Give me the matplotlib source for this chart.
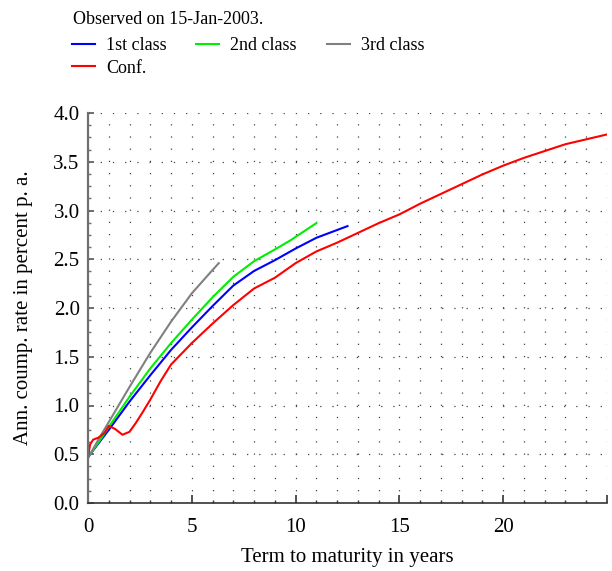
import numpy as np
import matplotlib
matplotlib.use('Agg')
import matplotlib.pyplot as plt
from matplotlib.ticker import MultipleLocator, FixedLocator

plt.rcParams['font.family'] = ['Liberation Serif', 'DejaVu Serif']
plt.rcParams['lines.scale_dashes'] = False

# Term structure curves (years, percent p. a.)
first_x = [0, 0.5, 1, 2, 3, 4, 5, 6, 7, 8, 9, 10, 11, 12, 12.5]
first_y = [0.47, 0.61, 0.75, 1.04, 1.31, 1.57, 1.80, 2.02, 2.23, 2.38, 2.49, 2.61, 2.72, 2.80, 2.84]

second_x = [0, 0.5, 1, 2, 3, 4, 5, 6, 7, 8, 9, 9.8, 10, 11]
second_y = [0.47, 0.62, 0.78, 1.09, 1.38, 1.64, 1.88, 2.11, 2.32, 2.48, 2.60, 2.70, 2.73, 2.87]

third_x = [0, 0.5, 1, 2, 3, 4, 5, 6, 6.3]
third_y = [0.46, 0.65, 0.83, 1.19, 1.54, 1.86, 2.15, 2.39, 2.46]

conf_x = [0, 0.1, 0.25, 0.5, 0.8, 1.0, 1.3, 1.66, 2.0, 2.3, 2.6, 3, 3.5, 4, 5, 6, 7, 8,
          9, 10, 11, 12, 13, 14, 15, 16, 17, 18, 19, 20, 21, 22, 23, 24, 25]
conf_y = [0.47, 0.60, 0.65, 0.67, 0.72, 0.79, 0.76, 0.70, 0.73, 0.82, 0.92, 1.06, 1.25, 1.42,
          1.64, 1.84, 2.03, 2.20, 2.31, 2.46, 2.58, 2.67, 2.77, 2.87, 2.96, 3.07, 3.17, 3.27,
          3.37, 3.46, 3.54, 3.61, 3.68, 3.73, 3.78]

x_major = [0, 5, 10, 15, 20, 25]
x_labels = ['0', '5', '10', '15', '20', '']

fig = plt.figure(figsize=(6.12, 5.71), dpi=100)
ax = fig.add_axes([88/612, 1-503/571, (607-88)/612, (503-113)/571])

l1, = ax.plot(first_x, first_y, color='#0000ff', lw=1.5)
l2, = ax.plot(second_x, second_y, color='#00ee00', lw=1.5)
l3, = ax.plot(third_x, third_y, color='#808080', lw=1.5)
l4, = ax.plot(conf_x, conf_y, color='#ff0000', lw=1.5)

ax.set_xlim(0, 25)
ax.set_ylim(0, 4.0)
ax.xaxis.set_major_locator(FixedLocator(x_major))
ax.set_xticklabels(x_labels)
ax.xaxis.set_minor_locator(MultipleLocator(1))
ax.yaxis.set_major_locator(MultipleLocator(0.5))
ax.yaxis.set_minor_locator(MultipleLocator(0.125))
ax.yaxis.set_major_formatter(matplotlib.ticker.FormatStrFormatter('%.1f'))

# dotted grid: columns every year, rows at the major y ticks
dots = (0, (0.9, 7.88))
ax.grid(True, which='both', axis='x', color='#444444', lw=0.9, linestyle=dots)
ax.grid(True, which='major', axis='y', color='#444444', lw=0.9, linestyle=dots)
ax.set_axisbelow(True)

for s in ['top', 'right']:
    ax.spines[s].set_visible(False)
ax.spines['left'].set_color('#707070')
ax.spines['left'].set_linewidth(1.6)
ax.spines['bottom'].set_color('#333333')
ax.spines['bottom'].set_linewidth(1.2)

ax.tick_params(axis='x', which='major', direction='in', length=6, width=1.2, color='#333333',
               labelsize=15, pad=11)
ax.tick_params(axis='x', which='minor', direction='in', length=2.5, width=1, color='#333333')
ax.tick_params(axis='y', which='major', direction='in', length=4, width=1.2, color='#555555',
               labelsize=15, pad=6)
ax.tick_params(axis='y', which='minor', direction='in', length=2, width=1, color='#707070')

ax.set_xlabel('Term to maturity in years', fontsize=15, labelpad=8)
ax.set_ylabel('Ann. coump. rate in percent p. a.', fontsize=15, labelpad=15)

fig.text(73/612, 1-20/571, 'Observed on 15-Jan-2003.', fontsize=13, va='center', ha='left')
leg = fig.legend([l1, l4, l2, l3], ['1st class', 'Conf.', '2nd class', '3rd class'],
                 ncol=3, loc='upper left', bbox_to_anchor=(72/612, 1-37/571),
                 frameon=False, fontsize=13, borderpad=0, borderaxespad=0,
                 handlelength=1.28, handletextpad=0.6, columnspacing=1.65,
                 labelspacing=0.31)

plt.savefig('out.png', dpi=100)
